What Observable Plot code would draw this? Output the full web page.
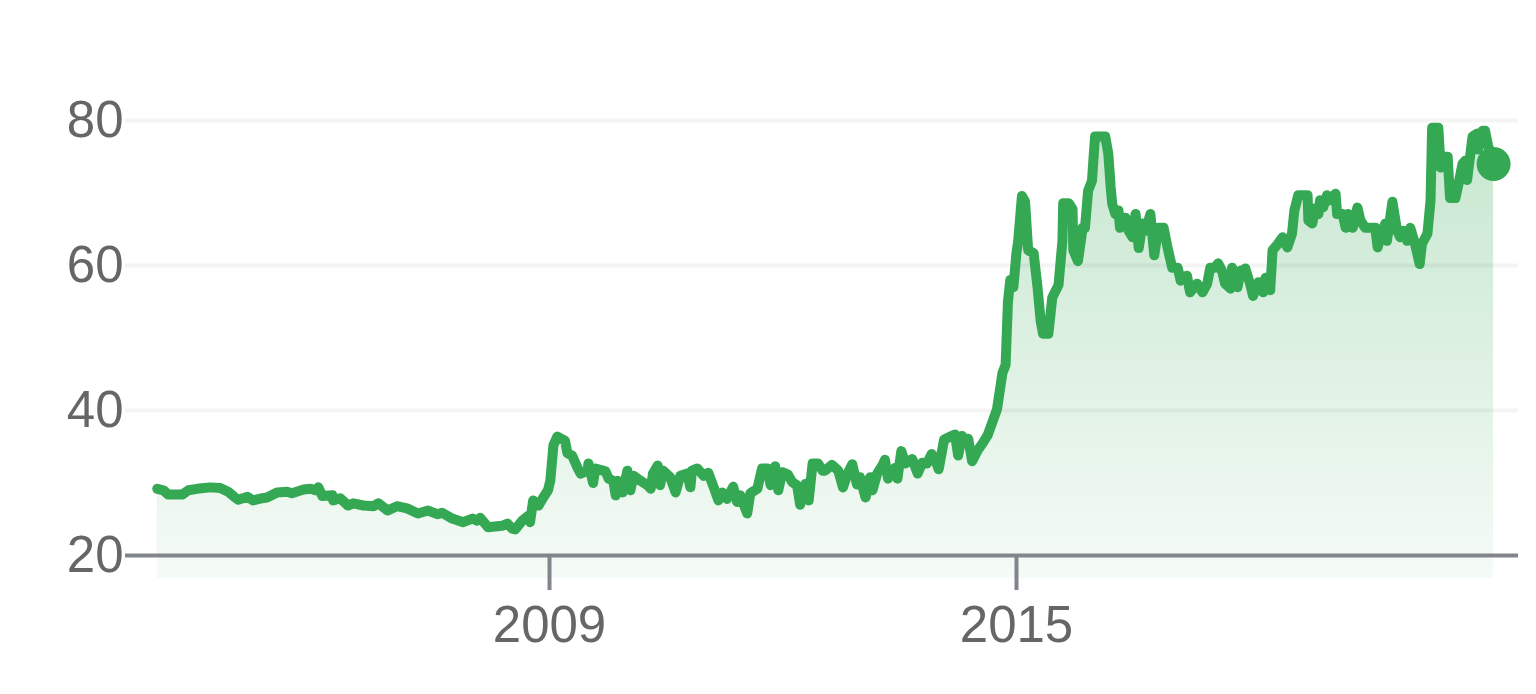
<!DOCTYPE html>
<html>
<head>
<meta charset="utf-8">
<script src="https://cdn.jsdelivr.net/npm/d3@7"></script>
<script src="https://cdn.jsdelivr.net/npm/@observablehq/plot@0.6"></script>
<style>
  html, body { margin: 0; padding: 0; background: #fff; }
  #chart { width: 1536px; height: 694px; }
</style>
</head>
<body>
<div id="chart"></div>
<script>
// Decimal years of each observation
const years = [
  2003.96, 2004.04, 2004.10, 2004.28, 2004.36, 2004.47, 2004.64, 2004.77, 2004.87, 2004.96,
  2005.00, 2005.12, 2005.19, 2005.31, 2005.37, 2005.50, 2005.63, 2005.69, 2005.84, 2005.93,
  2005.99, 2006.03, 2006.08, 2006.21, 2006.22, 2006.31, 2006.41, 2006.48, 2006.61, 2006.74,
  2006.80, 2006.92, 2007.04, 2007.17, 2007.31, 2007.44, 2007.56, 2007.62, 2007.75, 2007.89,
  2008.01, 2008.07, 2008.11, 2008.21, 2008.30, 2008.39, 2008.46, 2008.52, 2008.56, 2008.65,
  2008.73, 2008.75, 2008.79, 2008.86, 2008.92, 2008.98, 2009.01, 2009.05, 2009.10, 2009.20,
  2009.23, 2009.29, 2009.36, 2009.40, 2009.49, 2009.50, 2009.56, 2009.59, 2009.72, 2009.76,
  2009.82, 2009.85, 2009.88, 2009.94, 2010.00, 2010.04, 2010.08, 2010.17, 2010.26, 2010.30,
  2010.33, 2010.39, 2010.42, 2010.46, 2010.55, 2010.62, 2010.68, 2010.77, 2010.81, 2010.83,
  2010.90, 2010.98, 2011.04, 2011.10, 2011.17, 2011.22, 2011.28, 2011.36, 2011.41, 2011.45,
  2011.54, 2011.58, 2011.67, 2011.73, 2011.80, 2011.84, 2011.90, 2011.94, 2011.99, 2012.06,
  2012.12, 2012.18, 2012.22, 2012.29, 2012.33, 2012.38, 2012.45, 2012.51, 2012.54, 2012.63,
  2012.71, 2012.77, 2012.83, 2012.89, 2012.95, 2012.99, 2013.06, 2013.12, 2013.15, 2013.21,
  2013.28, 2013.31, 2013.35, 2013.44, 2013.47, 2013.52, 2013.57, 2013.66, 2013.73, 2013.79,
  2013.85, 2013.91, 2013.96, 2014.00, 2014.07, 2014.15, 2014.21, 2014.25, 2014.30, 2014.34,
  2014.38, 2014.43, 2014.50, 2014.56, 2014.63, 2014.69, 2014.75, 2014.82, 2014.86, 2014.89,
  2014.92, 2014.96, 2015.00, 2015.02, 2015.07, 2015.11, 2015.15, 2015.22, 2015.27, 2015.31,
  2015.34, 2015.41, 2015.46, 2015.54, 2015.59, 2015.60, 2015.67, 2015.72, 2015.73, 2015.79,
  2015.85, 2015.88, 2015.92, 2015.97, 2015.99, 2016.01, 2016.14, 2016.18, 2016.21, 2016.23,
  2016.27, 2016.31, 2016.33, 2016.40, 2016.44, 2016.49, 2016.53, 2016.57, 2016.62, 2016.66,
  2016.72, 2016.77, 2016.82, 2016.89, 2016.94, 2017.00, 2017.07, 2017.11, 2017.19, 2017.23,
  2017.32, 2017.39, 2017.45, 2017.49, 2017.55, 2017.59, 2017.64, 2017.68, 2017.75, 2017.77,
  2017.84, 2017.88, 2017.91, 2017.94, 2018.00, 2018.04, 2018.11, 2018.17, 2018.20, 2018.26,
  2018.29, 2018.36, 2018.42, 2018.48, 2018.54, 2018.57, 2018.62, 2018.74, 2018.75, 2018.80,
  2018.84, 2018.88, 2018.90, 2018.94, 2018.99, 2019.03, 2019.10, 2019.12, 2019.19, 2019.23,
  2019.26, 2019.32, 2019.38, 2019.42, 2019.48, 2019.61, 2019.64, 2019.70, 2019.74, 2019.76,
  2019.83, 2019.89, 2019.93, 2019.97, 2020.02, 2020.06, 2020.12, 2020.18, 2020.21, 2020.28,
  2020.32, 2020.34, 2020.42, 2020.45, 2020.48, 2020.54, 2020.57, 2020.64, 2020.68, 2020.73,
  2020.77, 2020.79, 2020.86, 2020.92, 2020.93, 2020.99, 2021.02, 2021.06, 2021.13
];
// Price at each observation
const prices = [
  29.2, 29.0, 28.4, 28.4, 29.0, 29.2, 29.4, 29.3, 28.8, 28.0,
  27.7, 28.1, 27.6, 27.9, 28.0, 28.7, 28.8, 28.6, 29.1, 29.2,
  29.0, 29.4, 28.2, 28.3, 27.6, 27.9, 26.9, 27.2, 26.9, 26.8,
  27.2, 26.2, 26.8, 26.5, 25.8, 26.2, 25.7, 25.9, 25.1, 24.6,
  25.1, 24.8, 25.2, 23.9, 24.0, 24.1, 24.4, 23.7, 23.6, 24.8,
  25.5, 24.6, 27.6, 26.9, 28.0, 29.0, 30.3, 35.2, 36.4, 35.8,
  34.1, 33.8, 32.1, 31.3, 31.7, 32.7, 30.0, 32.0, 31.6, 30.6,
  30.3, 28.3, 30.3, 28.7, 31.7, 29.0, 31.0, 30.3, 29.7, 29.2,
  31.3, 32.4, 29.7, 31.7, 30.8, 28.7, 31.0, 31.3, 29.4, 31.7,
  32.0, 31.0, 31.4, 29.7, 27.6, 28.7, 27.8, 29.5, 27.4, 28.3,
  25.8, 28.6, 29.2, 32.0, 32.0, 29.7, 32.3, 29.0, 31.5, 31.2,
  30.1, 29.7, 27.0, 29.9, 27.6, 32.7, 32.7, 31.7, 31.7, 32.5,
  31.7, 29.4, 31.3, 32.6, 29.8, 30.8, 28.0, 30.8, 29.0, 31.3,
  32.5, 33.2, 30.6, 32.1, 30.6, 34.4, 32.7, 33.3, 31.3, 32.8,
  32.7, 34.0, 33.1, 31.9, 36.0, 36.4, 36.7, 33.8, 36.5, 35.7,
  36.1, 33.0, 34.5, 35.4, 36.6, 38.4, 40.2, 45.2, 46.3, 55.0,
  58.0, 57.0, 61.8, 63.2, 69.6, 68.8, 62.1, 61.7, 57.0, 52.4,
  50.6, 50.6, 55.6, 57.3, 63.4, 68.6, 68.6, 67.8, 62.1, 60.6,
  65.2, 65.2, 70.3, 71.7, 74.9, 77.8, 77.8, 75.4, 70.8, 68.5,
  67.1, 67.6, 65.2, 66.6, 64.8, 63.9, 67.1, 62.4, 65.8, 64.8,
  67.1, 61.4, 65.2, 65.2, 62.5, 59.7, 59.7, 57.9, 58.6, 56.3,
  57.5, 56.3, 57.5, 59.7, 59.7, 60.3, 59.3, 57.5, 56.8, 59.7,
  57.0, 59.3, 58.9, 59.6, 57.5, 55.8, 57.7, 56.3, 58.3, 56.6,
  62.1, 63.0, 63.9, 62.5, 64.4, 67.6, 69.7, 69.7, 66.2, 65.8,
  67.9, 67.1, 69.0, 68.0, 69.7, 69.0, 69.9, 67.1, 67.1, 65.2,
  67.1, 65.2, 68.0, 66.2, 65.2, 65.2, 62.5, 64.8, 65.8, 63.4,
  68.8, 64.8, 63.9, 64.8, 63.4, 65.2, 63.0, 60.2, 63.0, 64.4,
  69.0, 79.0, 79.0, 73.5, 75.0, 75.0, 69.3, 69.3, 71.3, 74.0,
  74.5, 71.8, 77.8, 78.2, 76.0, 78.6, 78.6, 76.5, 74.0
];
const yTicks = [20, 40, 60, 80];
const gridValues = [40, 60, 80];
const xTicks = [2009, 2015];
const baseValue = 20;
const fillFloor = 16.83;
const tickEnd = 15.17;

const data = years.map((t, i) => ({ t, v: prices[i] }));
const last = data[data.length - 1];

const green = "#34a853";

const chart = Plot.plot({
  width: 1536,
  height: 694,
  marginLeft: 125,
  marginRight: 18,
  marginTop: 120,
  marginBottom: 116,
  style: { fontFamily: "'Liberation Sans', Arial, sans-serif", color: "#666666", background: "#ffffff", overflow: "visible" },
  x: { type: "linear", domain: [2003.552, 2021.45], label: null },
  y: { type: "linear", domain: [fillFloor, 80], label: null },
  marks: [
    Plot.areaY(data, { x: "t", y1: fillFloor, y2: "v", fill: "url(#areaGrad)" }),
    Plot.ruleY(gridValues, { stroke: "#000000", strokeOpacity: 0.045, strokeWidth: 4 }),
    Plot.ruleY([baseValue], { stroke: "#80868b", strokeWidth: 4 }),
    Plot.ruleX(xTicks, { x: d => d, y1: baseValue, y2: tickEnd, stroke: "#80868b", strokeWidth: 4 }),
    Plot.lineY(data, { x: "t", y: "v", stroke: green, strokeWidth: 10, strokeLinejoin: "round" }),
    Plot.dot([last], { x: "t", y: "v", r: 17, fill: green, stroke: null }),
    Plot.axisY(yTicks, { tickSize: 0, tickPadding: 2, fontSize: 51, label: null, tickFormat: d => String(d) }),
    Plot.axisX(xTicks, { tickSize: 0, tickPadding: 27, fontSize: 51, label: null, tickFormat: d => String(d) })
  ]
});

// gradient definition for the area fill
const ns = "http://www.w3.org/2000/svg";
const defs = document.createElementNS(ns, "defs");
const grad = document.createElementNS(ns, "linearGradient");
grad.setAttribute("id", "areaGrad");
grad.setAttribute("x1", "0"); grad.setAttribute("y1", "0");
grad.setAttribute("x2", "0"); grad.setAttribute("y2", "1");
[[0, 0.28], [1, 0.05]].forEach(([o, a]) => {
  const s = document.createElementNS(ns, "stop");
  s.setAttribute("offset", o);
  s.setAttribute("stop-color", green);
  s.setAttribute("stop-opacity", a);
  grad.appendChild(s);
});
defs.appendChild(grad);
chart.insertBefore(defs, chart.firstChild);

document.getElementById("chart").appendChild(chart);
</script>
</body>
</html>
